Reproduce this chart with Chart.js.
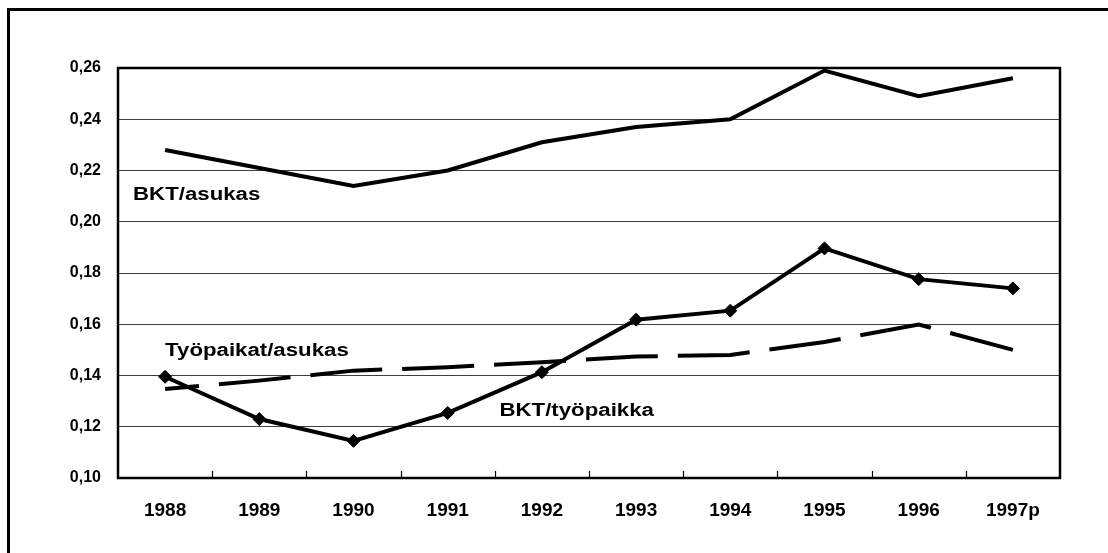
<!DOCTYPE html>
<html>
<head>
<meta charset="utf-8">
<script src="https://cdn.jsdelivr.net/npm/chart.js@4/dist/chart.umd.min.js"></script>
<style>
  html, body { margin: 0; padding: 0; background: #fff; overflow: hidden; }
  #wrap { width: 1108px; height: 553px; position: relative; }
</style>
</head>
<body>
<div id="wrap"><canvas id="chart"></canvas></div>
<script>
const years = ["1988", "1989", "1990", "1991", "1992", "1993", "1994", "1995", "1996", "1997p"];
const bktAsukas = [0.228, 0.221, 0.214, 0.220, 0.231, 0.237, 0.240, 0.259, 0.249, 0.256];
const bktTyopaikka = [0.1395, 0.123, 0.1145, 0.1254, 0.1413, 0.1618, 0.1653, 0.1896, 0.1776, 0.174];
const tyopaikatAsukas = [0.1347, 0.138, 0.1419, 0.1432, 0.1452, 0.1474, 0.148, 0.1531, 0.1599, 0.150];
const yTicks = { min: 0.10, max: 0.26, step: 0.02 };
// series names written inside the plot: [text, category position, value at baseline]
const seriesLabels = [
  ["BKT/asukas", -0.34, 0.2083],
  ["Työpaikat/asukas", 0.0, 0.1478],
  ["BKT/työpaikka", 3.55, 0.1243]
];

const FONT = "'Liberation Sans', Arial, sans-serif";

// outer frame, plot border, inward category ticks and the in-plot series names
const decor = {
  id: "decor",
  beforeDraw(c) {
    const ctx = c.ctx;
    ctx.save();
    ctx.fillStyle = "#fff";
    ctx.fillRect(0, 0, c.width, c.height);
    ctx.strokeStyle = "#000"; ctx.lineWidth = 3;
    ctx.strokeRect(8.5, 9.5, 3000, 3000);
    ctx.restore();
  },
  afterDraw(c) {
    const ctx = c.ctx, a = c.chartArea, x = c.scales.x, y = c.scales.y;
    ctx.save();
    ctx.strokeStyle = "#000"; ctx.lineWidth = 2.5;
    ctx.strokeRect(a.left, a.top, a.right - a.left, a.bottom - a.top);
    ctx.lineWidth = 1.2;
    for (let i = 1; i < years.length; i++) {
      const px = Math.round(x.getPixelForValue(i - 0.5)) + 0.5;
      ctx.beginPath(); ctx.moveTo(px, a.bottom); ctx.lineTo(px, a.bottom - 7); ctx.stroke();
    }
    ctx.fillStyle = "#000";
    ctx.font = "bold 17.5px " + FONT;
    ctx.textBaseline = "alphabetic";
    for (const [t, idx, v] of seriesLabels) {
      const px = x.getPixelForValue(idx), py = y.getPixelForValue(v);
      ctx.save();
      ctx.translate(px, py); ctx.scale(1.27, 1);
      ctx.fillText(t, 0, 0);
      ctx.restore();
    }
    ctx.restore();
  }
};

new Chart(document.getElementById("chart"), {
  type: "line",
  data: {
    labels: years,
    datasets: [
      { label: "BKT/asukas", data: bktAsukas, borderColor: "#000", borderWidth: 4,
        pointRadius: 0, tension: 0, borderCapStyle: "butt", borderJoinStyle: "miter" },
      { label: "BKT/työpaikka", data: bktTyopaikka, borderColor: "#000", borderWidth: 4,
        pointStyle: "rectRot", pointRadius: 6.5, pointBackgroundColor: "#000", pointBorderColor: "#000",
        pointBorderWidth: 1, tension: 0, borderJoinStyle: "miter" },
      { label: "Työpaikat/asukas", data: tyopaikatAsukas, borderColor: "#000", borderWidth: 4,
        borderDash: [72, 20], borderDashOffset: 38, borderCapStyle: "butt",
        pointRadius: 0, tension: 0 }
    ]
  },
  options: {
    responsive: true, maintainAspectRatio: false, animation: false,
    layout: { padding: { top: 68, right: 48, left: 0, bottom: 0 } },
    plugins: { legend: { display: false }, tooltip: { enabled: false } },
    scales: {
      x: {
        offset: true,
        grid: { display: false, drawTicks: false },
        border: { display: false },
        ticks: { color: "#000", font: { family: FONT, size: 19, weight: "bold" }, padding: 21, maxRotation: 0 },
        afterFit: s => { s.height = 75; }
      },
      y: {
        min: yTicks.min, max: yTicks.max,
        grid: { color: "#404040", lineWidth: 1, drawTicks: false },
        border: { display: false },
        ticks: { stepSize: yTicks.step, color: "#000", padding: 17,
                 font: { family: FONT, size: 16, weight: "bold" },
                 callback: v => v.toFixed(2).replace(".", ",") },
        afterFit: s => { s.width = 118; }
      }
    }
  },
  plugins: [decor]
});
</script>
</body>
</html>
